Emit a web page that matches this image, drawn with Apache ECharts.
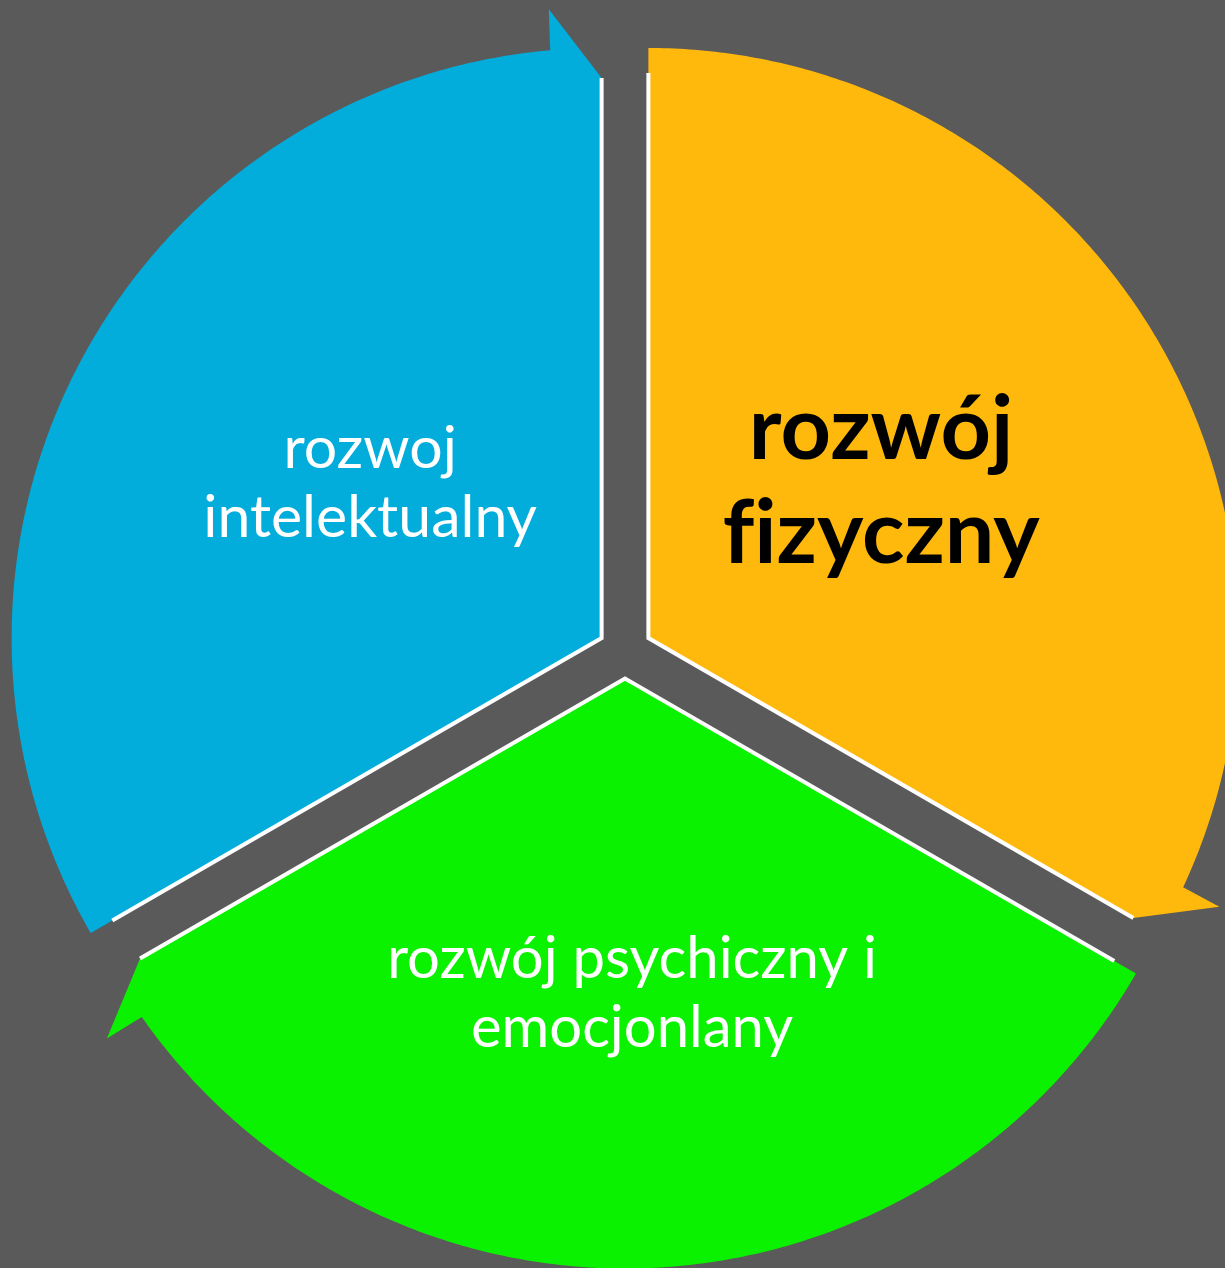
<!DOCTYPE html>
<html>
<head>
<meta charset="utf-8">
<script src="https://cdn.jsdelivr.net/npm/echarts@6/dist/echarts.min.js"></script>
<style>
html, body { margin: 0; padding: 0; background: #5a5a5a; }
#main { width: 1225px; height: 1268px; }
</style>
</head>
<body>
<div id="main"></div>
<script>
// segmenty cyklu, zgodnie z ruchem wskazówek zegara od godziny 12
var labels = ['rozwój\nf\u200Cizyczny', 'rozwój psychiczny i\nemocjonlany', 'rozwoj\nintelektualny'];
var values = [1, 1, 1];
var colors = ['#FFB90D', '#0AF200', '#02ADDC'];

var chart = echarts.init(document.getElementById('main'));

var cx = 625, cy = 651.5, R = 590, off = 27;
var labelR = [278, 317, 280];
var labelShift = [[-8, -16], [7, -2], [11, -15]];
var total = values.reduce(function (s, v) { return s + v; }, 0);

function pt(ox, oy, r, deg) {
    var a = deg * Math.PI / 180;
    return [ox + r * Math.sin(a), oy - r * Math.cos(a)];
}

function renderItem(params, api) {
    var i = params.dataIndex;
    var before = 0;
    for (var j = 0; j < i; j++) before += values[j];
    var a0 = before / total * 360;
    var a1 = (before + api.value(0)) / total * 360;
    var mid = (a0 + a1) / 2;
    var o = pt(cx, cy, off, mid);
    var ox = o[0], oy = o[1];

    // wycinek z grotem strzałki na końcu
    var pts = [[ox, oy]];
    for (var a = a0; a < a1 - 5; a += 0.5) pts.push(pt(ox, oy, R, a));
    pts.push(pt(ox, oy, R, a1 - 5));
    pts.push(pt(ox, oy, R + 41, a1 - 4.8));
    var tip = pt(ox, oy, R - 30, a1);
    pts.push(tip);

    var lp = pt(ox, oy, labelR[i], mid);
    var bold = i === 0;

    return {
        type: 'group',
        children: [
            { type: 'polygon', shape: { points: pts }, style: { fill: api.visual('color') } },
            { type: 'polyline', shape: { points: [pt(ox, oy, R - 25, a0), [ox, oy], tip] },
              style: { stroke: '#fff', lineWidth: 4, fill: null } },
            { type: 'text', x: lp[0] + labelShift[i][0], y: lp[1] + labelShift[i][1],
              style: {
                  text: labels[i],
                  fill: bold ? '#000' : '#fff',
                  fontFamily: 'Lato',
                  fontWeight: bold ? 'bold' : 'normal',
                  fontSize: bold ? 88 : (i === 1 ? 58 : 59),
                  lineHeight: bold ? 104 : 69,
                  align: 'center',
                  verticalAlign: 'middle'
              } }
        ]
    };
}

var option = {
    backgroundColor: '#5a5a5a',
    animation: false,
    series: [{
        type: 'custom',
        coordinateSystem: 'none',
        renderItem: renderItem,
        data: values.map(function (v, k) {
            return { value: v, name: labels[k], itemStyle: { color: colors[k] } };
        })
    }]
};
chart.setOption(option);
</script>
</body>
</html>
